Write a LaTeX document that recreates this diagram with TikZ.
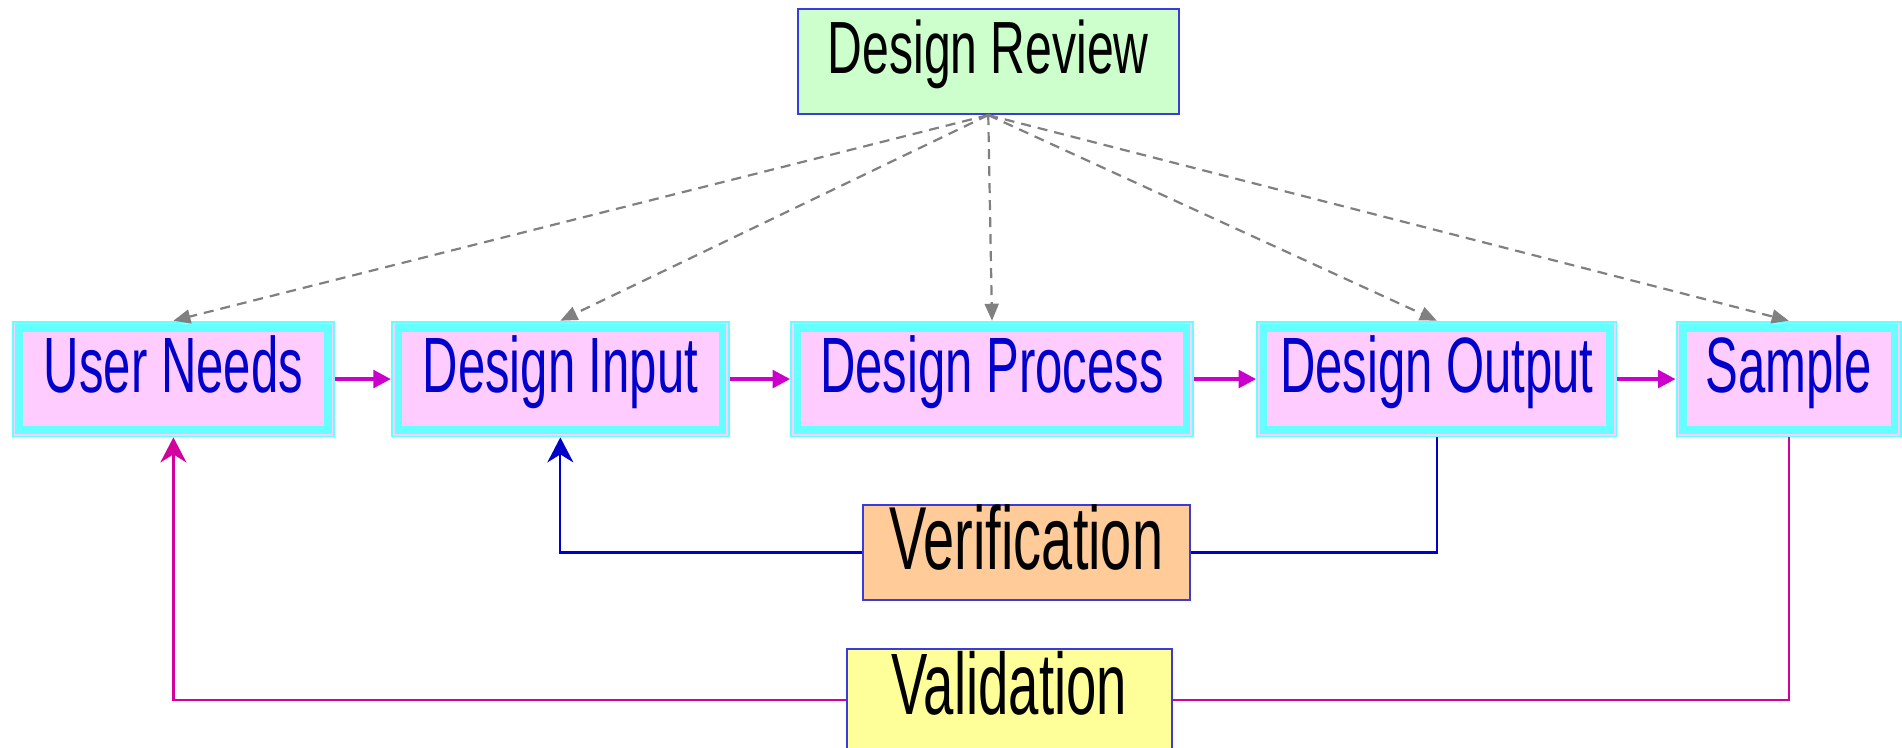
\documentclass[tikz,border=0pt]{standalone}
\usepackage{fontspec}
\setmainfont{Liberation Sans}[FakeStretch=0.625]
\newfontfamily\reviewfont{Liberation Sans}[FakeStretch=0.65]
\usetikzlibrary{arrows.meta}
\definecolor{pinkfill}{HTML}{FFCCFF}
\definecolor{cyanC}{HTML}{66FFFF}
\definecolor{textblue}{HTML}{0000CC}
\definecolor{greenfill}{HTML}{CCFFCC}
\definecolor{orangefill}{HTML}{FFCC99}
\definecolor{yellowfill}{HTML}{FFFF99}
\definecolor{boxborder}{HTML}{3B3BD6}
\definecolor{magentaC}{HTML}{CC00CC}
\definecolor{valC}{HTML}{D4009E}
\definecolor{grayC}{HTML}{808080}
\begin{document}
\begin{tikzpicture}[x=1pt,y=1pt,
  mainbox/.style={anchor=north west, inner sep=0pt, fill=pinkfill, text=textblue,
    minimum height=116.3pt, text height=71.6pt, text depth=44.7pt,
    font=\fontsize{78.5}{80}\selectfont},
  sidebox/.style={anchor=north west, inner sep=0pt, draw=boxborder, line width=1.8pt,
    text=black},
  flowarrow/.style={draw=magentaC, line width=4.7pt, -{Triangle[length=17.7pt,width=17.3pt]}},
  reviewarrow/.style={draw=grayC, line width=2.2pt, dash pattern=on 10pt off 7pt,
    -{Triangle[length=17pt,width=14pt]}},
  verline/.style={draw=textblue, line width=2.2pt},
  valline/.style={draw=valC, line width=2.2pt},
  backtip/.style={-{Stealth[length=25pt,width=26pt,inset=8pt]}}
]
\useasboundingbox (0,0) rectangle (1902,-747);

% main flow boxes
\node[mainbox, minimum width=323pt]   (un) at (11.7,-320.7)  {User Needs};
\node[mainbox, minimum width=338.3pt] (di) at (391,-320.7)   {Design Input};
\node[mainbox, minimum width=403pt]   (dp) at (790.3,-320.7) {Design Process};
\node[mainbox, minimum width=360.7pt] (do) at (1256.3,-320.7) {Design Output};
\node[mainbox, minimum width=225.6pt] (sa) at (1675.7,-320.7) {Sample};

\foreach \n in {un,di,dp,do,sa} {
  \draw[cyanC, line width=1.8pt] ([shift={(0.9,-0.9)}]\n.north west) rectangle ([shift={(-0.9,0.9)}]\n.south east);
  \draw[cyanC, line width=7.5pt] ([shift={(7.35,-7.35)}]\n.north west) rectangle ([shift={(-7.35,7.35)}]\n.south east);
}

% side boxes
\node[sidebox, fill=greenfill, minimum width=380.7pt, minimum height=105pt,
  text height=64.4pt, text depth=40.6pt, font=\reviewfont\fontsize{74}{80}\selectfont]
  (dr) at (797,-8.3) {Design Review};
\node[sidebox, fill=orangefill, minimum width=327.6pt, minimum height=94.4pt,
  text height=64pt, text depth=30.4pt, font=\fontsize{89.5}{90}\selectfont]
  (ver) at (861.7,-504.3) {Verification};
\node[sidebox, fill=yellowfill, minimum width=325.3pt, minimum height=102pt,
  text height=65.3pt, text depth=36.7pt, font=\fontsize{87.2}{90}\selectfont]
  (val) at (845.7,-648) {Validation};

% flow arrows
\draw[flowarrow] (un.east) -- (di.west);
\draw[flowarrow] (di.east) -- (dp.west);
\draw[flowarrow] (dp.east) -- (do.west);
\draw[flowarrow] (do.east) -- (sa.west);

% review arrows
\foreach \n in {un,di,dp,do,sa} {
  \draw[reviewarrow] (dr.south) -- (\n.north);
}

% verification
\draw[verline] (do.south) |- (ver.east);
\draw[verline, backtip] (ver.west) -| (di.south);

% validation
\draw[valline] (sa.south) |- (val.east);
\draw[valline, backtip] (val.west) -| (un.south);
\end{tikzpicture}
\end{document}
